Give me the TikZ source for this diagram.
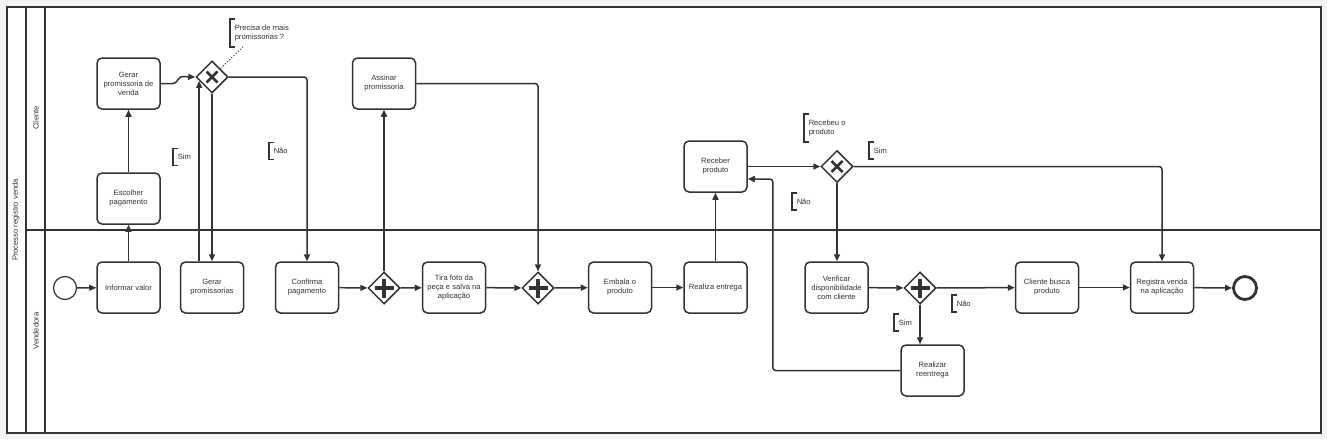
\documentclass[tikz,border=0pt]{standalone}
\usepackage{fontspec}
\setmainfont{Liberation Sans}
\usepackage{xcolor}
\usepackage{tikz}
\usetikzlibrary{calc,shapes.geometric,arrows.meta}
\definecolor{ink}{HTML}{333333}
\definecolor{canvas}{HTML}{F4F4F4}

\begin{document}
\begin{tikzpicture}[x=1pt, y=-1pt, font=\fontsize{7.6}{9}\selectfont, color=ink, line width=1.5pt,
		task/.style={draw, rounded corners=5pt, minimum width=63pt, minimum height=51pt, align=center, inner sep=1pt},
		gate/.style={diamond, draw, minimum size=32pt, inner sep=0pt},
		xorgate/.style={gate, path picture={\draw[line width=2.7pt] ($(path picture bounding box.center)+(-5.5,-5.5)$) -- ++(11,11) ($(path picture bounding box.center)+(-5.5,5.5)$) -- ++(11,-11);}},
		andgate/.style={gate, path picture={\draw[line width=3.8pt] ($(path picture bounding box.center)+(-9.5,0)$) -- ++(19,0) ($(path picture bounding box.center)+(0,-9.5)$) -- ++(0,19);}},
		startev/.style={circle, draw, minimum size=23pt, inner sep=0pt, line width=1.2pt},
		endev/.style={circle, draw, minimum size=23pt, inner sep=0pt, line width=2.8pt},
		flow/.style={-{Triangle[length=7pt,width=6pt]}, rounded corners=3pt},
		note/.style={anchor=west, align=left, inner xsep=4pt, inner ysep=5pt,
			append after command={\pgfextra{\let\thenote\tikzlastnode
				\draw[line width=1.6pt] ([xshift=5pt]\thenote.north west) -- (\thenote.north west) -- (\thenote.south west) -- ([xshift=5pt]\thenote.south west);}}}]
			\fill[canvas] (0,0) rectangle (1327,439);
			\useasboundingbox (0,0) rectangle (1327,439);
			\draw[fill=white] (7,7) rectangle (1321,433);
			\draw (26,7) -- (26,433) (45,7) -- (45,433) (26,230) -- (1321,230);
			\node[rotate=90] (pool) at (16,220) {Processo registro venda};
			\node[rotate=90] (cliente) at (36,118) {Cliente};
			\node[rotate=90] (vendedora) at (36,331) {Vendedora};

			\node[startev] (inicio) at (65,288) {};
			\node[task] (informar) at (128.5,287.5) {Informar valor};
			\node[task] (escolher) at (128.5,198.5) {Escolher\\pagamento};
			\node[task] (gerarvenda) at (128.5,83.5) {Gerar\\promissoria de\\venda};
			\node[xorgate] (xorprom) at (212,77) {};
			\node[task] (gerarprom) at (212,287.5) {Gerar\\promissorias};
			\node[task] (confirma) at (307,287.5) {Confirma\\pagamento};
			\node[andgate] (andfoto) at (384,288) {};
			\node[task] (assinar) at (384,83.5) {Assinar\\promissoria};
			\node[task] (foto) at (454,287.5) {Tira foto da\\peça e salva na\\aplicação};
			\node[andgate] (andembala) at (538,288) {};
			\node[task] (embala) at (620,287.5) {Embala o\\produto};
			\node[task] (entrega) at (715.5,287.5) {Realiza entrega};
			\node[task] (receber) at (715.5,166.5) {Receber\\produto};
			\node[xorgate] (xorrecebeu) at (837,166.5) {};
			\node[task] (verificar) at (836.5,287.5) {Verificar\\disponibilidade\\com cliente};
			\node[andgate] (anddisp) at (920,288) {};
			\node[task] (reentrega) at (932.5,370.5) {Realizar\\reentrega};
			\node[task] (busca) at (1047,287.5) {Cliente busca\\produto};
			\node[task] (registra) at (1162,287.5) {Registra venda\\na aplicação};
			\node[endev] (fim) at (1245,288) {};

			\node[note] (precisa) at (230,33) {Precisa de mais\\promissorias ?};
			\node[note] (simprom) at (173,157) {Sim};
			\node[note] (naoprom) at (269,151) {Não};
			\node[note] (recebeu) at (804,128) {Recebeu o\\produto};
			\node[note] (simrecebeu) at (869,150.5) {Sim};
			\node[note] (naorecebeu) at (792,201.5) {Não};
			\node[note] (naodisp) at (952,303.5) {Não};
			\node[note] (simdisp) at (894,322.5) {Sim};

			\draw[flow] (inicio) -- (informar);
			\draw[flow] (informar) -- (escolher);
			\draw[flow] (escolher) -- (gerarvenda);
			\draw[flow] (gerarvenda.east) -- ++(15,0) -- ++(4,-7) -- (xorprom.west);
			\draw[flow] (gerarprom.north -| xorprom.197) -- (xorprom.197);
			\draw[flow] (xorprom) -- (gerarprom);
			\draw[flow] (xorprom.east) -| (confirma.north);
			\draw[flow] (confirma) -- (andfoto);
			\draw[flow] (andfoto) -- (foto);
			\draw[flow] (andfoto) -- (assinar);
			\draw[flow] (assinar.east) -| (andembala.north);
			\draw[flow] (foto) -- (andembala);
			\draw[flow] (andembala) -- (embala);
			\draw[flow] (embala) -- (entrega);
			\draw[flow] (entrega) -- (receber);
			\draw[flow] (receber) -- (xorrecebeu);
			\draw[flow] (xorrecebeu.east) -| (registra.north);
			\draw[flow] (xorrecebeu.south) -- (xorrecebeu.south |- verificar.north);
			\draw[flow] (verificar) -- (anddisp);
			\draw[flow] (anddisp) -- (busca);
			\draw[flow] (anddisp.south) -- (anddisp.south |- reentrega.north);
			\draw[flow] (reentrega.west) -| ($(receber.east)+(25,12.5)$) -- ($(receber.east)+(0,12.5)$);
			\draw[flow] (busca) -- (registra);
			\draw[flow] (registra) -- (fim);
			\draw[dotted, line width=1pt] ([xshift=13pt]precisa.south west) -- (xorprom.north east);
		\end{tikzpicture}
\end{document}
